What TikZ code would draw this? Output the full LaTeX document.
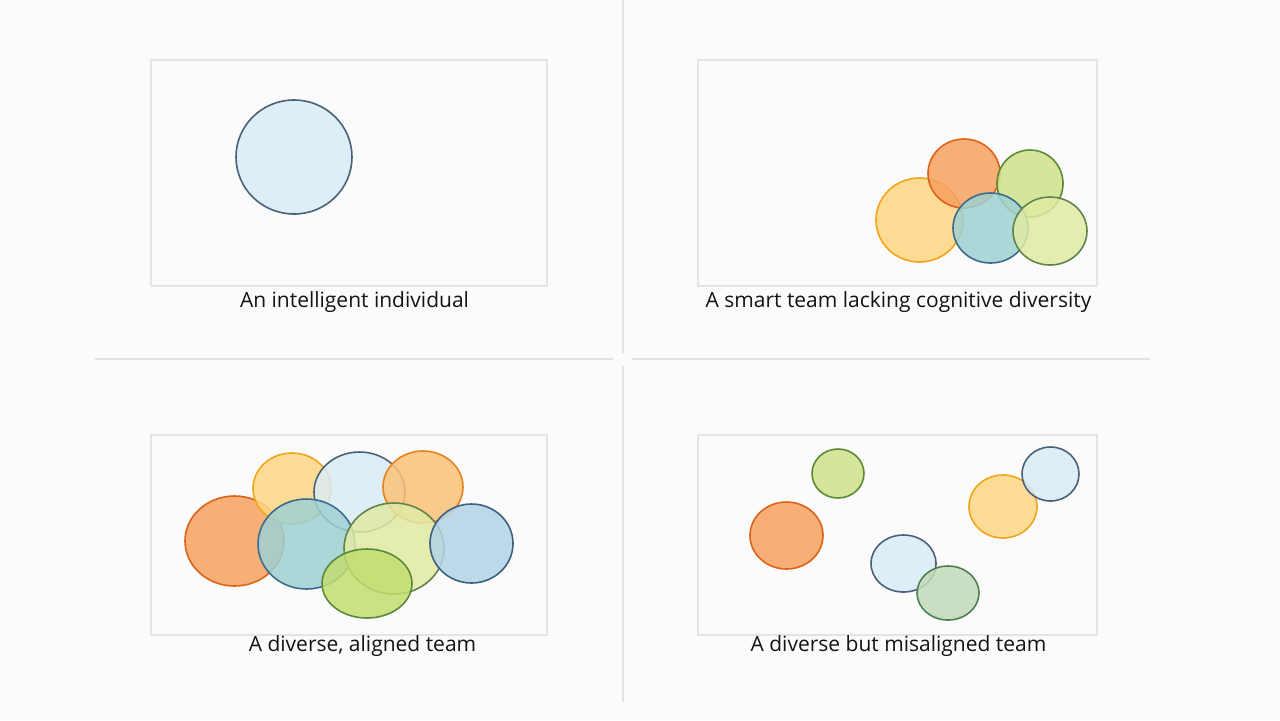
\documentclass[tikz,border=0pt]{standalone}
\usepackage{fontspec}
\setmainfont{Open Sans}
\usetikzlibrary{shapes.geometric}
\definecolor{paper}{HTML}{FBFBFB}
\definecolor{rulegray}{HTML}{E2E2E2}
\definecolor{framegray}{HTML}{E4E4E4}
\definecolor{ink}{HTML}{141414}
\definecolor{skyfill}{HTML}{DAECF6}
\definecolor{skyline}{HTML}{4A6178}
\definecolor{sunfill}{HTML}{FDD682}
\definecolor{sunline}{HTML}{F2A51C}
\definecolor{emberfill}{HTML}{F7A260}
\definecolor{emberline}{HTML}{DC6418}
\definecolor{leaffill}{HTML}{CFE28C}
\definecolor{leafline}{HTML}{5E8A34}
\definecolor{lagoonfill}{HTML}{9ED1D4}
\definecolor{lagoonline}{HTML}{3C6C8A}
\definecolor{meadowfill}{HTML}{E0EAA4}
\definecolor{meadowline}{HTML}{62844A}
\definecolor{oceanfill}{HTML}{B2D3E6}
\definecolor{oceanline}{HTML}{3E6080}
\definecolor{apricotfill}{HTML}{FBC278}
\definecolor{apricotline}{HTML}{E8821E}
\definecolor{sagefill}{HTML}{C2DABA}
\definecolor{sageline}{HTML}{4E8050}
\definecolor{mossfill}{HTML}{C2DD70}
\definecolor{mossline}{HTML}{5C8A3C}
\tikzset{
	blob/.style={ellipse, draw, line width=0.8pt, inner sep=0pt, fill opacity=0.85},
	frame/.style={draw=framegray, line width=0.6pt, inner sep=0pt},
	rule/.style={draw=rulegray, line width=0.6pt},
	lbl/.style={font=\fontsize{10.5pt}{12pt}\selectfont, text=ink, inner sep=0pt},
	sky/.style={fill=skyfill, draw=skyline},
	sunny/.style={fill=sunfill, draw=sunline},
	ember/.style={fill=emberfill, draw=emberline},
	leaf/.style={fill=leaffill, draw=leafline},
	lagoon/.style={fill=lagoonfill, draw=lagoonline},
	meadow/.style={fill=meadowfill, draw=meadowline},
	ocean/.style={fill=oceanfill, draw=oceanline},
	apricot/.style={fill=apricotfill, draw=apricotline},
	sage/.style={fill=sagefill, draw=sageline},
	moss/.style={fill=mossfill, draw=mossline}
}
\begin{document}
\begin{tikzpicture}[x=0.5pt, y=-0.5pt]
		\fill[paper] (0,0) rectangle (1280,720);
		\useasboundingbox (0,0) rectangle (1280,720);
		\draw[rule] (623,0) -- (623,353);
		\draw[rule] (623,366) -- (623,702);
		\draw[rule] (95,359) -- (613,359);
		\draw[rule] (632,359) -- (1150,359);

		\node[frame, minimum width=198pt, minimum height=113pt] (fsolo) 	at (349,173) 	{};
		\node[frame, minimum width=199.5pt, minimum height=113pt] (fsmart) 	at (897.5,173) 	{};
		\node[frame, minimum width=198pt, minimum height=100pt] (faligned) 	at (349,535) 	{};
		\node[frame, minimum width=199.5pt, minimum height=100pt] (fapart) 	at (897.5,535) 	{};

		\node[lbl] (lsolo) 	at (354.5,302.5) 	{An intelligent individual};
		\node[lbl] (lsmart) 	at (898.5,302.5) 	{A smart team lacking cognitive diversity};
		\node[lbl] (laligned) 	at (362.5,646.5) 	{A diverse, aligned team};
		\node[lbl] (lapart) 	at (898.5,646.5) 	{A diverse but misaligned team};

		\node[blob, sky, minimum width=58pt, minimum height=57pt] (solo) 	at (294,157) 	{};

		\node[blob, sunny, minimum width=43.5pt, minimum height=42pt] (s1) 	at (919.5,220) 	{};
		\node[blob, ember, minimum width=36pt, minimum height=34.5pt] (s2) 	at (964,173.5) 	{};
		\node[blob, leaf, minimum width=33pt, minimum height=33.5pt] (s3) 	at (1030,183.5) 	{};
		\node[blob, lagoon, minimum width=37.5pt, minimum height=35pt] (s4) 	at (990.5,228) 	{};
		\node[blob, meadow, minimum width=37pt, minimum height=34pt] (s5) 	at (1050,231) 	{};

		\node[blob, ember, minimum width=49.5pt, minimum height=45pt] (a1) 	at (234.5,541) 	{};
		\node[blob, sunny, minimum width=39pt, minimum height=35.5pt] (a2) 	at (292,488.5) 	{};
		\node[blob, sky, minimum width=45.5pt, minimum height=40pt] (a3) 	at (359.5,492) 	{};
		\node[blob, apricot, minimum width=40pt, minimum height=36pt] (a4) 	at (423,487) 	{};
		\node[blob, lagoon, minimum width=48.5pt, minimum height=45pt] (a5) 	at (306.5,544) 	{};
		\node[blob, meadow, minimum width=50pt, minimum height=45.5pt] (a6) 	at (394,548.5) 	{};
		\node[blob, ocean, minimum width=41.5pt, minimum height=39.5pt] (a7) 	at (471.5,543.5) 	{};
		\node[blob, moss, minimum width=45pt, minimum height=34.5pt] (a8) 	at (367,583.5) 	{};

		\node[blob, leaf, minimum width=26pt, minimum height=24.5pt] (m1) 	at (838,473.5) 	{};
		\node[blob, ember, minimum width=36.5pt, minimum height=33.5pt] (m2) 	at (786.5,535.5) 	{};
		\node[blob, sunny, minimum width=34pt, minimum height=31.5pt] (m3) 	at (1003,506.5) 	{};
		\node[blob, sky, minimum width=28.5pt, minimum height=27pt] (m4) 	at (1050.5,474) 	{};
		\node[blob, sky, minimum width=32.5pt, minimum height=28.5pt] (m5) 	at (903.5,563.5) 	{};
		\node[blob, sage, minimum width=31pt, minimum height=27pt] (m6) 	at (948,593) 	{};
	\end{tikzpicture}
\end{document}
